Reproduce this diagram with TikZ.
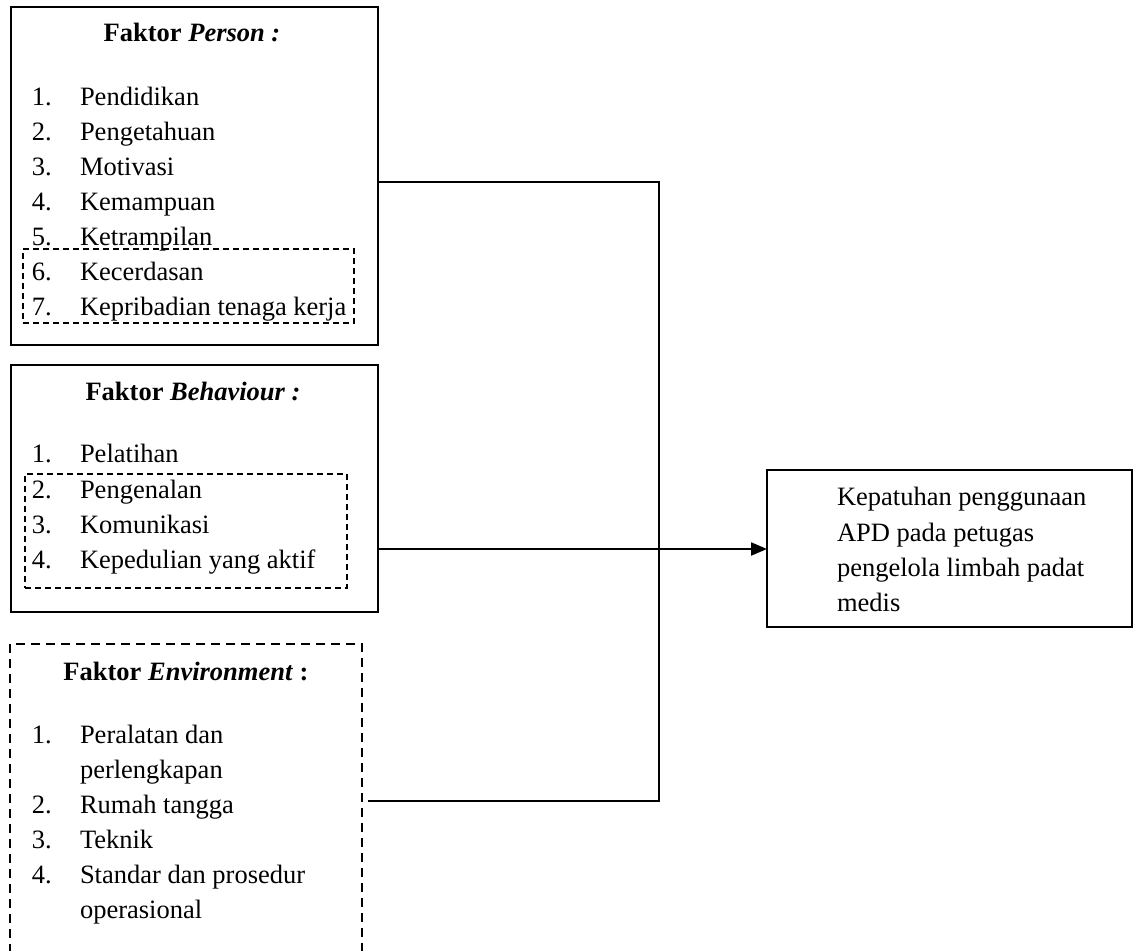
\documentclass[tikz,border=0pt]{standalone}
\usepackage{fontspec}
\setmainfont{Liberation Serif}
\usetikzlibrary{arrows.meta}
\begin{document}
\begin{tikzpicture}[x=0.5pt,y=-0.5pt,
  every node/.style={font=\fontsize{13.25pt}{17.5pt}\selectfont, inner sep=0pt, outer sep=0pt},
  solidbox/.style={draw, line width=0.8pt},
  thickbox/.style={draw, line width=1.3pt},
  dashbox/.style={draw, line width=1.3pt, dash pattern=on 4.5pt off 3pt},
  innerdash/.style={draw, line width=0.7pt, dash pattern=on 3pt off 2pt},
  title/.style={anchor=base, font=\fontsize{13.25pt}{17.5pt}\selectfont\bfseries},
  num/.style={anchor=base west},
  item/.style={anchor=base west},
  conn/.style={line width=0.8pt},
  arrowconn/.style={line width=1.1pt, -{Triangle[length=8pt,width=6.5pt]}}]
\useasboundingbox (0,0) rectangle (1134,951);
% boxes
\node[solidbox, minimum width=183.5pt, minimum height=169pt] (person) at (194.5,176) {};
\node[thickbox, minimum width=183.5pt, minimum height=123.5pt] (behav) at (194.5,488.5) {};
\node[dashbox, minimum width=176pt, minimum height=173pt] (env) at (186,817) {};
\node[solidbox, minimum width=182.5pt, minimum height=78.5pt] (out) at (949.5,548.5) {};
\node[innerdash, minimum width=165.5pt, minimum height=37pt] (pdash) at (188.5,286) {};
\node[innerdash, minimum width=161pt, minimum height=57pt] (bdash) at (186,531) {};
% Person
\node[title] (pt) at (192,42) {Faktor \textit{Person :}};
\node[num] (p1n) at (32,106) {1.};\node[item] (p1) at (80,106) {Pendidikan};
\node[num] (p2n) at (32,141) {2.};\node[item] (p2) at (80,141) {Pengetahuan};
\node[num] (p3n) at (32,176) {3.};\node[item] (p3) at (80,176) {Motivasi};
\node[num] (p4n) at (32,211) {4.};\node[item] (p4) at (80,211) {Kemampuan};
\node[num] (p5n) at (32,246) {5.};\node[item] (p5) at (80,246) {Ketrampilan};
\node[num] (p6n) at (32,281) {6.};\node[item] (p6) at (80,281) {Kecerdasan};
\node[num] (p7n) at (32,316) {7.};\node[item] (p7) at (80,316) {Kepribadian tenaga kerja};
% Behaviour
\node[title] (bt) at (193,401) {Faktor \textit{Behaviour :}};
\node[num] (b1n) at (32,463) {1.};\node[item] (b1) at (80,463) {Pelatihan};
\node[num] (b2n) at (32,498) {2.};\node[item] (b2) at (80,498) {Pengenalan};
\node[num] (b3n) at (32,533) {3.};\node[item] (b3) at (80,533) {Komunikasi};
\node[num] (b4n) at (32,568) {4.};\node[item] (b4) at (80,568) {Kepedulian yang aktif};
% Environment
\node[title] (et) at (186,680) {Faktor \textit{Environment} :};
\node[num] (e1n) at (32,743) {1.};\node[item] (e1) at (80,743) {Peralatan dan};
\node[item] (e1b) at (80,778) {perlengkapan};
\node[num] (e2n) at (32,813) {2.};\node[item] (e2) at (80,813) {Rumah tangga};
\node[num] (e3n) at (32,848) {3.};\node[item] (e3) at (80,848) {Teknik};
\node[num] (e4n) at (32,883) {4.};\node[item] (e4) at (80,883) {Standar dan prosedur};
\node[item] (e4b) at (80,918) {operasional};
% Output text
\node[item] (o1) at (837,506) {Kepatuhan penggunaan};
\node[item] (o2) at (837,541) {APD pada petugas};
\node[item] (o3) at (837,576) {pengelola limbah padat};
\node[item] (o4) at (837,611) {medis};
% connectors
\coordinate (jtop) at (659,182);
\coordinate (jmid) at (659,549);
\coordinate (jbot) at (659,801);
\draw[conn] (person.east |- jtop) -- (jtop) -- (jbot) -- ([xshift=3pt]env.east |- jbot);
\draw[conn] (behav.east |- jmid) -- (jmid);
\draw[arrowconn] (jmid) -- (out.west |- jmid);
\end{tikzpicture}
\end{document}
